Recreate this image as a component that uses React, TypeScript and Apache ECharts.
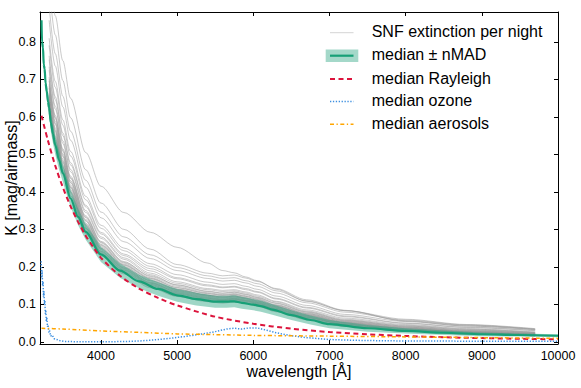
import React, { useEffect, useRef } from "react";
import * as echarts from "echarts";

// ---- per-night extinction curves (gray) ----
const NIGHT_WL = [3320, 3400, 3500, 3600, 3800, 4000, 4300, 4650, 5000, 5400, 5600, 5750, 5900, 6050, 6300, 6700, 7200, 8000, 8800, 9700];
const NIGHT_K = [
  [0.611, 0.522, 0.445, 0.382, 0.288, 0.229, 0.181, 0.144, 0.121, 0.107, 0.103, 0.106, 0.102, 0.095, 0.080, 0.059, 0.041, 0.028, 0.020, 0.015],
  [0.620, 0.530, 0.452, 0.388, 0.293, 0.233, 0.184, 0.147, 0.123, 0.110, 0.106, 0.109, 0.104, 0.097, 0.082, 0.061, 0.042, 0.029, 0.021, 0.016],
  [0.630, 0.538, 0.459, 0.394, 0.298, 0.237, 0.187, 0.150, 0.125, 0.111, 0.107, 0.110, 0.105, 0.098, 0.083, 0.062, 0.043, 0.030, 0.022, 0.016],
  [0.624, 0.533, 0.455, 0.390, 0.295, 0.235, 0.185, 0.150, 0.128, 0.113, 0.109, 0.112, 0.107, 0.100, 0.085, 0.064, 0.045, 0.031, 0.023, 0.017],
  [0.639, 0.547, 0.466, 0.400, 0.303, 0.241, 0.191, 0.153, 0.128, 0.114, 0.110, 0.113, 0.108, 0.101, 0.085, 0.064, 0.045, 0.031, 0.023, 0.017],
  [0.635, 0.543, 0.463, 0.398, 0.301, 0.239, 0.189, 0.153, 0.130, 0.116, 0.112, 0.115, 0.109, 0.102, 0.087, 0.066, 0.046, 0.032, 0.024, 0.018],
  [0.649, 0.555, 0.473, 0.406, 0.307, 0.245, 0.194, 0.156, 0.131, 0.116, 0.111, 0.114, 0.110, 0.103, 0.087, 0.065, 0.046, 0.033, 0.024, 0.018],
  [0.643, 0.550, 0.469, 0.402, 0.304, 0.242, 0.192, 0.156, 0.134, 0.119, 0.114, 0.117, 0.112, 0.105, 0.089, 0.068, 0.048, 0.034, 0.025, 0.019],
  [0.658, 0.563, 0.480, 0.412, 0.312, 0.249, 0.197, 0.158, 0.133, 0.118, 0.113, 0.116, 0.111, 0.104, 0.089, 0.067, 0.047, 0.033, 0.025, 0.018],
  [0.654, 0.560, 0.477, 0.410, 0.310, 0.247, 0.196, 0.159, 0.136, 0.121, 0.116, 0.119, 0.114, 0.106, 0.091, 0.069, 0.049, 0.035, 0.026, 0.019],
  [0.668, 0.571, 0.487, 0.418, 0.317, 0.253, 0.201, 0.162, 0.137, 0.122, 0.117, 0.120, 0.115, 0.107, 0.092, 0.070, 0.050, 0.035, 0.026, 0.020],
  [0.662, 0.566, 0.483, 0.414, 0.314, 0.250, 0.199, 0.163, 0.140, 0.124, 0.119, 0.122, 0.117, 0.109, 0.094, 0.072, 0.051, 0.037, 0.027, 0.020],
  [0.677, 0.580, 0.494, 0.424, 0.322, 0.256, 0.204, 0.165, 0.139, 0.124, 0.119, 0.122, 0.116, 0.109, 0.093, 0.071, 0.051, 0.036, 0.027, 0.020],
  [0.687, 0.588, 0.501, 0.430, 0.326, 0.260, 0.207, 0.168, 0.141, 0.125, 0.121, 0.124, 0.118, 0.111, 0.095, 0.073, 0.052, 0.037, 0.028, 0.021],
  [0.681, 0.583, 0.497, 0.426, 0.323, 0.258, 0.205, 0.169, 0.145, 0.129, 0.124, 0.127, 0.121, 0.114, 0.097, 0.075, 0.054, 0.039, 0.029, 0.022],
  [0.696, 0.596, 0.508, 0.436, 0.331, 0.264, 0.210, 0.171, 0.144, 0.128, 0.124, 0.126, 0.121, 0.113, 0.097, 0.075, 0.054, 0.039, 0.029, 0.022],
  [0.706, 0.604, 0.515, 0.442, 0.336, 0.268, 0.214, 0.174, 0.148, 0.131, 0.126, 0.129, 0.123, 0.116, 0.099, 0.077, 0.056, 0.040, 0.030, 0.023],
  [0.700, 0.599, 0.511, 0.438, 0.333, 0.266, 0.212, 0.176, 0.152, 0.135, 0.130, 0.133, 0.127, 0.119, 0.103, 0.080, 0.058, 0.042, 0.032, 0.024],
  [0.725, 0.621, 0.529, 0.454, 0.345, 0.276, 0.220, 0.179, 0.151, 0.134, 0.129, 0.132, 0.126, 0.118, 0.102, 0.079, 0.057, 0.042, 0.032, 0.024],
  [0.734, 0.629, 0.536, 0.460, 0.350, 0.280, 0.224, 0.183, 0.156, 0.139, 0.134, 0.136, 0.130, 0.122, 0.106, 0.082, 0.060, 0.044, 0.034, 0.025],
  [0.753, 0.646, 0.550, 0.472, 0.360, 0.288, 0.230, 0.189, 0.160, 0.142, 0.137, 0.139, 0.133, 0.125, 0.108, 0.085, 0.063, 0.046, 0.035, 0.026],
  [0.763, 0.654, 0.557, 0.478, 0.364, 0.292, 0.234, 0.195, 0.168, 0.149, 0.144, 0.146, 0.139, 0.132, 0.114, 0.090, 0.067, 0.049, 0.038, 0.029],
  [0.791, 0.679, 0.578, 0.496, 0.379, 0.303, 0.243, 0.201, 0.171, 0.152, 0.146, 0.148, 0.142, 0.134, 0.116, 0.092, 0.069, 0.050, 0.039, 0.030],
  [0.810, 0.695, 0.592, 0.508, 0.388, 0.311, 0.250, 0.208, 0.179, 0.159, 0.153, 0.155, 0.148, 0.140, 0.122, 0.097, 0.073, 0.054, 0.042, 0.032],
  [0.858, 0.736, 0.627, 0.538, 0.412, 0.331, 0.267, 0.222, 0.190, 0.169, 0.162, 0.164, 0.157, 0.148, 0.130, 0.104, 0.079, 0.058, 0.045, 0.033],
  [0.953, 0.819, 0.697, 0.598, 0.459, 0.370, 0.300, 0.247, 0.206, 0.183, 0.176, 0.178, 0.170, 0.161, 0.142, 0.112, 0.084, 0.055, 0.042, 0.033],
  [1.020, 0.870, 0.750, 0.650, 0.505, 0.415, 0.345, 0.292, 0.252, 0.210, 0.190, 0.184, 0.173, 0.163, 0.140, 0.108, 0.083, 0.060, 0.046, 0.035],
  [0.896, 0.769, 0.655, 0.562, 0.431, 0.346, 0.280, 0.232, 0.198, 0.176, 0.169, 0.171, 0.163, 0.155, 0.136, 0.109, 0.083, 0.056, 0.044, 0.034],
];

// ---- median and nMAD ----
const MEDIAN_WL = [3220, 3226, 3240, 3248, 3262, 3272, 3290, 3305, 3320, 3342, 3370, 3400, 3450, 3500, 3600, 3700, 3800, 4000, 4250, 4500, 4750, 5000, 5250, 5500, 5650, 5750, 5850, 6000, 6100, 6250, 6500, 6750, 7000, 7500, 8000, 8500, 9000, 9500, 10000];
const MEDIAN_K = [0.858, 0.80, 0.785, 0.74, 0.728, 0.69, 0.668, 0.64, 0.625, 0.585, 0.555, 0.525, 0.485, 0.45, 0.383, 0.333, 0.293, 0.233, 0.19, 0.161, 0.141, 0.124, 0.114, 0.107, 0.107, 0.108, 0.104, 0.099, 0.095, 0.086, 0.071, 0.058, 0.047, 0.036, 0.029, 0.024, 0.020, 0.018, 0.016];
const NMAD_K = [0.02, 0.02, 0.02, 0.02, 0.02, 0.02, 0.02, 0.02, 0.02, 0.024, 0.025, 0.025, 0.025, 0.024, 0.023, 0.022, 0.021, 0.02, 0.019, 0.018, 0.018, 0.017, 0.017, 0.016, 0.016, 0.016, 0.016, 0.015, 0.015, 0.014, 0.013, 0.012, 0.011, 0.009, 0.007, 0.006, 0.005, 0.004, 0.004];

// ---- Rayleigh ----
const RAYLEIGH_WL = [3220, 3300, 3400, 3500, 3600, 3700, 3800, 3900, 4000, 4250, 4500, 4750, 5000, 5500, 6000, 6500, 7000, 7500, 8000, 8500, 9000, 9500, 10000];
const RAYLEIGH_K = [0.603, 0.54, 0.47, 0.412, 0.362, 0.32, 0.283, 0.252, 0.224, 0.176, 0.142, 0.117, 0.097, 0.067, 0.048, 0.035, 0.026, 0.020, 0.0155, 0.012, 0.0097, 0.0079, 0.0065];

// ---- ozone ----
const OZONE_WL = [3215, 3222, 3228, 3234, 3240, 3246, 3252, 3258, 3264, 3270, 3276, 3283, 3290, 3298, 3306, 3315, 3325, 3340, 3360, 3385, 3420, 3460, 3520, 3700, 4000, 4300, 4500, 4700, 4900, 5100, 5300, 5500, 5650, 5750, 5850, 5950, 6050, 6150, 6300, 6500, 6700, 7000, 7300, 7600, 8000, 9000, 10000];
const OZONE_K = [0.215, 0.17, 0.19, 0.15, 0.16, 0.12, 0.135, 0.10, 0.11, 0.075, 0.085, 0.055, 0.065, 0.04, 0.045, 0.025, 0.03, 0.015, 0.018, 0.008, 0.006, 0.003, 0.001, 0.0, 0.0, 0.0005, 0.002, 0.005, 0.009, 0.014, 0.02, 0.027, 0.034, 0.036, 0.034, 0.037, 0.037, 0.032, 0.024, 0.016, 0.011, 0.006, 0.004, 0.003, 0.002, 0.0015, 0.001];

// ---- aerosols ----
const AEROSOL_WL = [3220, 3500, 4000, 4500, 5000, 5500, 6000, 7000, 8000, 9000, 10000];
const AEROSOL_K = [0.036, 0.034, 0.029, 0.025, 0.021, 0.019, 0.017, 0.015, 0.013, 0.011, 0.009];

const LEGEND_LABELS = ["SNF extinction per night", "median \u00b1 nMAD", "median Rayleigh", "median ozone", "median aerosols"];

const FONT = "'Liberation Sans', Arial, Helvetica, sans-serif";
const GREEN = "#17a077";
const RED = "#dc143c";
const BLUE = "#3d8fe0";
const ORANGE = "#ffa500";

const pairs = (xs: number[], ys: number[]) => xs.map((x, i) => [x, ys[i]]);

export default function App() {
  const ref = useRef<HTMLDivElement>(null);
  useEffect(() => {
    const chart = echarts.init(ref.current as HTMLDivElement, null, { renderer: "svg" });
    const series: any[] = [];
    NIGHT_K.forEach((k) => {
      series.push({
        type: "line", data: pairs(NIGHT_WL, k), symbol: "none", smooth: 0.3, smoothMonotone: "x",
        lineStyle: { color: "#999999", width: 0.8, opacity: 0.65 }, silent: true, z: 1,
      });
    });
    const upper = MEDIAN_WL.map((x, i) => [x, MEDIAN_K[i] + NMAD_K[i]]);
    const lower = MEDIAN_WL.map((x, i) => [x, MEDIAN_K[i] - NMAD_K[i]]);
    series.push({
      type: "custom", data: [[MEDIAN_WL[0], MEDIAN_K[0]]], clip: true, silent: true, z: 2,
      renderItem: (params: any, api: any) => {
        const pts = upper.map((p) => api.coord(p)).concat(lower.slice().reverse().map((p) => api.coord(p)));
        return { type: "polygon", shape: { points: pts }, style: { fill: "#1b9e77", opacity: 0.42 } };
      },
    });
    series.push({
      type: "line", data: pairs(MEDIAN_WL, MEDIAN_K), symbol: "none", smooth: 0.3, smoothMonotone: "x",
      lineStyle: { color: GREEN, width: 2.2 }, silent: true, z: 3,
    });
    series.push({
      type: "line", data: pairs(RAYLEIGH_WL, RAYLEIGH_K), symbol: "none", smooth: 0.3,
      lineStyle: { color: RED, width: 2, type: [5, 3.5] }, silent: true, z: 4,
    });
    series.push({
      type: "line", data: pairs(OZONE_WL, OZONE_K), symbol: "none", smooth: false,
      lineStyle: { color: BLUE, width: 1.5, type: [1.3, 1.6] }, silent: true, z: 5,
    });
    series.push({
      type: "line", data: pairs(AEROSOL_WL, AEROSOL_K), symbol: "none", smooth: 0.3,
      lineStyle: { color: ORANGE, width: 1.5, type: [4, 2.5, 1.3, 2.5] }, silent: true, z: 6,
    });

    const axisCommon = {
      axisLine: { show: true, onZero: false, lineStyle: { color: "#000", width: 1 } },
      axisTick: { show: true, inside: true, length: 4, lineStyle: { color: "#000", width: 1 } },
      splitLine: { show: false },
    };
    const xFmt = (v: number) => (Math.abs(v % 1000) < 1e-6 ? String(Math.round(v)) : "");
    const yFmt = (v: number) => (Math.abs(v * 10 - Math.round(v * 10)) < 1e-6 ? (Math.round(v * 10) / 10).toFixed(1) : "");

    const legendRows = [32.7, 55.7, 79, 101.5, 124.3];
    const lx1 = 330, lx2 = 353.5, tx = 371.7;
    const graphic: any[] = [
      { type: "line", shape: { x1: lx1, y1: legendRows[0], x2: lx2, y2: legendRows[0] }, style: { stroke: "#c8c8c8", lineWidth: 0.8 }, silent: true },
      { type: "rect", shape: { x: 325.7, y: 49.5, width: 32.6, height: 12.4 }, style: { fill: "rgba(27,158,119,0.4)" }, silent: true },
      { type: "line", shape: { x1: lx1, y1: legendRows[1], x2: lx2, y2: legendRows[1] }, style: { stroke: GREEN, lineWidth: 2.2 }, silent: true },
      { type: "line", shape: { x1: lx1, y1: legendRows[2], x2: lx2, y2: legendRows[2] }, style: { stroke: RED, lineWidth: 2, lineDash: [5, 3.5] }, silent: true },
      { type: "line", shape: { x1: lx1, y1: legendRows[3], x2: lx2, y2: legendRows[3] }, style: { stroke: BLUE, lineWidth: 1.5, lineDash: [1.3, 1.6] }, silent: true },
      { type: "line", shape: { x1: lx1, y1: legendRows[4], x2: lx2, y2: legendRows[4] }, style: { stroke: ORANGE, lineWidth: 1.5, lineDash: [4, 2.5, 1.3, 2.5] }, silent: true },
    ];
    LEGEND_LABELS.forEach((t, i) => {
      graphic.push({
        type: "text", x: tx, y: legendRows[i] - 0.8, silent: true,
        style: { text: t, fill: "#000", fontSize: 16, fontFamily: FONT, verticalAlign: "middle", align: "left" },
      });
    });

    chart.setOption({
      animation: false,
      backgroundColor: "#fff",
      grid: { left: 40, top: 12, width: 518, height: 332, containLabel: false, outerBoundsMode: "none" },
      xAxis: [
        {
          type: "value", min: 3200, max: 10000, splitNumber: 7, position: "bottom", ...axisCommon,
          axisLabel: { color: "#000", fontSize: 12.5, fontFamily: FONT, margin: 5, showMinLabel: false, formatter: xFmt },
          name: "wavelength [\u00c5]", nameLocation: "middle", nameGap: 19, nameMoveOverlap: false,
          nameTextStyle: { color: "#000", fontSize: 16, fontFamily: FONT },
        },
        {
          type: "value", min: 3200, max: 10000, splitNumber: 7, position: "top", ...axisCommon,
          axisLabel: { show: false },
        },
      ],
      yAxis: [
        {
          type: "value", min: -0.006, max: 0.88, splitNumber: 10, position: "left", ...axisCommon,
          axisLabel: { color: "#000", fontSize: 12.5, fontFamily: FONT, margin: 4, showMinLabel: false, showMaxLabel: false, formatter: yFmt },
          name: "K [mag/airmass]", nameLocation: "middle", nameGap: 21, nameMoveOverlap: false,
          nameTextStyle: { color: "#000", fontSize: 16, fontFamily: FONT },
        },
        {
          type: "value", min: -0.006, max: 0.88, splitNumber: 10, position: "right", ...axisCommon,
          axisLabel: { show: false },
        },
      ],
      series,
      graphic,
    });
    return () => chart.dispose();
  }, []);
  return <div ref={ref} style={{ position: "fixed", left: 0, top: 0, width: 581, height: 388, background: "#fff" }} />;
}
